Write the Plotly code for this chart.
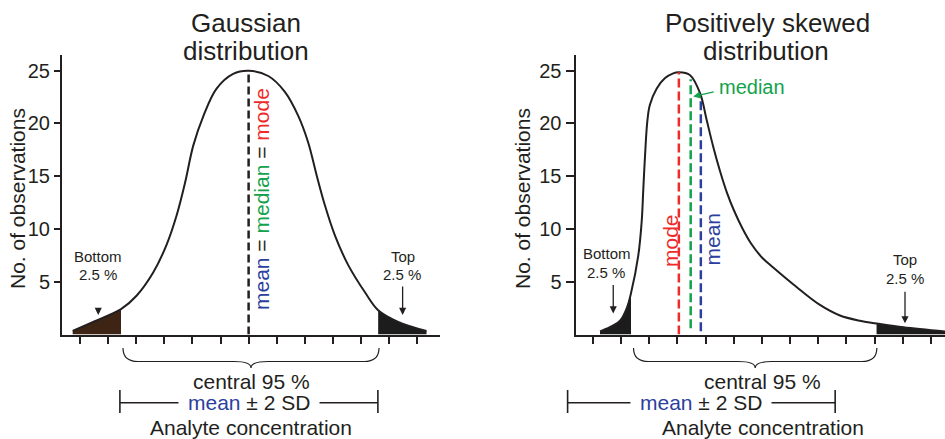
import plotly.graph_objects as go

W, H = 945, 439
INK = "#231f20"
BLUE = "#2b3f9e"
GREEN = "#13a24b"
RED = "#ee2a2a"
BROWN = "#3d2415"
FONT = "Liberation Sans, Arial, Helvetica, sans-serif"

# ---------------- data ----------------
# Gaussian panel (x in concentration tick units, y = no. of observations)
gauss_x = [-0.26, 0.47, 1.46, 2.02, 2.61, 3.08, 3.44, 3.74, 4.03, 4.39, 4.86, 5.45, 6.00,
           6.70, 7.29, 7.77, 8.12, 8.42, 8.72, 9.07, 9.54, 10.14, 10.61, 11.32, 12.33]
gauss_y = [0.33, 1.2, 2.4, 3.7, 5.9, 8.5, 11.3, 14.4, 17.9, 20.7, 23.3, 24.7, 25.0,
           24.5, 23.0, 20.7, 18.2, 15.1, 12.2, 9.4, 6.6, 4.0, 2.3, 1.2, 0.33]
gauss_lo_cut = 1.46
gauss_hi_cut = 10.61
gauss_center = 6.0
gauss_peak = 25.0
gauss_sd2 = [1.42, 10.60]
gauss_central = [1.53, 10.64]

# Positively skewed panel
skew_x = [0.25, 0.60, 0.96, 1.20, 1.35, 1.61, 1.73, 1.79, 1.85, 1.93, 2.02, 2.26, 2.56, 2.85,
          3.05, 3.44, 3.80, 4.04, 4.27, 4.51, 4.75, 5.00, 5.30, 5.62, 6.00, 6.40, 7.23, 8.06,
          8.77, 9.48, 10.07, 11.02, 12.50]
skew_y = [0.3, 0.7, 1.3, 2.5, 3.9, 7.5, 10.7, 13.9, 17.0, 20.2, 21.75, 23.3, 24.3, 24.75,
          24.85, 24.6, 22.9, 20.3, 17.8, 15.5, 13.5, 11.8, 10.1, 8.6, 7.3, 6.35, 4.5, 2.8,
          1.8, 1.3, 1.05, 0.68, 0.28]
skew_lo_cut = 1.35
skew_hi_cut = 10.07
skew_stats = ["mode", "median", "mean"]
skew_stat_colors = [RED, GREEN, BLUE]
skew_stat_x = [3.05, 3.47, 3.83]
skew_stat_top = [24.85, 24.2, 22.5]
skew_stat_bottom = [0.0, 0.6, 0.3]
skew_sd2 = [-0.90, 8.60]
skew_central = [1.44, 10.08]

y_ticks = [5, 10, 15, 20, 25]
x_ticks = list(range(0, 13))

# ---------------- geometry ----------------
dom_x1 = [62 / W, 440 / W]
rng_x1 = [-0.64, 12.81]
dom_x2 = [575.5 / W, 1.0]
rng_x2 = [-0.62, 12.50]
dom_y = [1 - 334.5 / H, 1 - 55 / H]
rng_y = [0, 26.49]


def xp(panel, x):
    d, r = (dom_x1, rng_x1) if panel == 1 else (dom_x2, rng_x2)
    return d[0] + (x - r[0]) / (r[1] - r[0]) * (d[1] - d[0])


def yp(py):
    return 1 - py / H


fig = go.Figure()


def add_panel(panel, xs, ys, lo, hi, lo_color, hi_color):
    xa = "x" if panel == 1 else "x2"
    ya = "y" if panel == 1 else "y2"
    lx = [x for x in xs if x <= lo + 1e-9]
    ly = [y for x, y in zip(xs, ys) if x <= lo + 1e-9]
    hx = [x for x in xs if x >= hi - 1e-9]
    hy = [y for x, y in zip(xs, ys) if x >= hi - 1e-9]
    for tx, ty, col in [(lx, ly, lo_color), (hx, hy, hi_color)]:
        fig.add_trace(go.Scatter(x=tx, y=ty, mode="lines", fill="tozeroy", fillcolor=col,
                                 line=dict(width=0, shape="spline", color=col),
                                 xaxis=xa, yaxis=ya, hoverinfo="skip", showlegend=False))
    fig.add_trace(go.Scatter(x=xs, y=ys, mode="lines",
                             line=dict(color=INK, width=2, shape="spline"),
                             xaxis=xa, yaxis=ya, showlegend=False))


add_panel(1, gauss_x, gauss_y, gauss_lo_cut, gauss_hi_cut, BROWN, "#1c1c1c")
add_panel(2, skew_x, skew_y, skew_lo_cut, skew_hi_cut, "#1c1c1c", "#1c1c1c")

# dashed statistic lines
fig.add_trace(go.Scatter(x=[gauss_center, gauss_center], y=[0, gauss_peak], mode="lines",
                         line=dict(color=INK, width=2.5, dash="8px,4px"),
                         xaxis="x", yaxis="y", showlegend=False))
for sx, st, sb, col in zip(skew_stat_x, skew_stat_top, skew_stat_bottom, skew_stat_colors):
    fig.add_trace(go.Scatter(x=[sx, sx], y=[sb, st], mode="lines",
                             line=dict(color=col, width=2.5, dash="9px,4px"),
                             xaxis="x2", yaxis="y2", showlegend=False))

common = dict(showgrid=False, zeroline=False, showline=True, linecolor=INK, linewidth=2,
              ticks="outside", tickcolor=INK, tickwidth=1.5)
yfont = dict(family=FONT, size=20, color=INK)
fig.update_layout(
    width=W, height=H, margin=dict(l=0, r=0, t=0, b=0),
    paper_bgcolor="white", plot_bgcolor="white", showlegend=False,
    xaxis=dict(domain=dom_x1, range=rng_x1, tickvals=x_ticks, showticklabels=False,
               ticklen=7, anchor="y", **common),
    yaxis=dict(domain=dom_y, range=rng_y, tickvals=y_ticks, ticklen=6, tickfont=yfont,
               anchor="x", **common),
    xaxis2=dict(domain=dom_x2, range=rng_x2, tickvals=x_ticks, showticklabels=False,
                ticklen=7, anchor="y2", **common),
    yaxis2=dict(domain=dom_y, range=rng_y, tickvals=y_ticks, ticklen=8, tickfont=yfont,
                anchor="x2", **common),
)

anns = []


def text(t, px, py, size, color=INK, angle=0, **kw):
    d = dict(text=t, x=px / W, y=yp(py), xref="paper", yref="paper", showarrow=False,
             font=dict(family=FONT, size=size, color=color), textangle=angle,
             xanchor="center", yanchor="middle")
    d.update(kw)
    anns.append(d)


def arrow(panel, hx, hy, ax, ay, color=INK):
    anns.append(dict(text="", x=hx, y=hy, xref="x" if panel == 1 else "x2",
                     yref="y" if panel == 1 else "y2", ax=ax, ay=ay, showarrow=True,
                     arrowhead=2, arrowsize=1.1, arrowwidth=1.3, arrowcolor=color))


shapes = []
Y_TOP, Y_MID, Y_TIP = 348, 361.5, 368
for panel, (c0, c1), (s0, s1), sd_center in [(1, gauss_central, gauss_sd2, gauss_center),
                                            (2, skew_central, skew_sd2, skew_stat_x[2])]:
    x0, x1 = xp(panel, c0), xp(panel, c1)
    xm = (x0 + x1) / 2
    d = 15 / W
    dm = 17 / W
    yt, ym, yk = yp(Y_TOP), yp(Y_MID), yp(Y_TIP)
    path = (f"M{x0},{yt} Q{x0},{ym} {x0 + d},{ym} L{xm - dm},{ym} Q{xm},{ym} {xm},{yk} "
            f"Q{xm},{ym} {xm + dm},{ym} L{x1 - d},{ym} Q{x1},{ym} {x1},{yt}")
    shapes.append(dict(type="path", path=path, xref="paper", yref="paper",
                       line=dict(color=INK, width=1.2)))
    # mean +- 2 SD bar
    a0, a1 = xp(panel, s0), xp(panel, s1)
    yb = yp(402.7)
    shapes.append(dict(type="line", x0=a0, x1=a1, y0=yb, y1=yb, xref="paper", yref="paper",
                       line=dict(color=INK, width=1.6)))
    for a in (a0, a1):
        shapes.append(dict(type="line", x0=a, x1=a, y0=yp(390), y1=yp(413), xref="paper",
                           yref="paper", line=dict(color=INK, width=1.6)))
    cx = xp(panel, sd_center) * W
    text(f"<span style='color:{BLUE}'>mean</span> ± 2 SD", cx, 402.7, 21,
         bgcolor="white", borderpad=9)

# titles
text("Gaussian", 246, 23, 26)
text("distribution", 246, 51.5, 26)
text("Positively skewed", 767, 23, 26)
text("distribution", 766, 51.5, 26)
# y titles
text("No. of observations", 17, 199, 21, angle=-90)
text("No. of observations", 522, 199, 21, angle=-90)
# central 95 % / analyte
for cxp in (251.3, 762.5):
    text("central 95 %", cxp, 381.7, 21)
for cxp in (251, 762.8):
    text("Analyte concentration", cxp, 427.5, 21)

# left panel statistic label
text(f"<span style='color:{BLUE}'>mean</span> = <span style='color:{GREEN}'>median</span>"
     f" = <span style='color:{RED}'>mode</span>", 261, 199, 21, angle=-90)
# right panel statistic labels
text("mode", 670, 241, 21, color=RED, angle=-90)
text("mean", 711.5, 239, 21, color=BLUE, angle=-90)
text("median", 751.7, 86.7, 20, color=GREEN)
arrow(2, 3.56, 22.55, 22, -5, GREEN)

# tails labels
text("Bottom", 98, 256, 15)
text("2.5 %", 97.5, 274.5, 15)
text("Top", 402.5, 256, 15)
text("2.5 %", 402, 274.5, 15)
text("Bottom", 607, 253, 15)
text("2.5 %", 606, 272.5, 15)
text("Top", 905, 259, 15)
text("2.5 %", 905, 278, 15)
arrow(1, 0.65, 1.85, 0, -8)
arrow(1, 11.48, 1.85, 0, -30)
arrow(2, 0.72, 2.0, 0, -30)
arrow(2, 11.08, 1.06, 0, -33)

fig.update_layout(annotations=anns, shapes=shapes)
fig.write_html("out.html")
